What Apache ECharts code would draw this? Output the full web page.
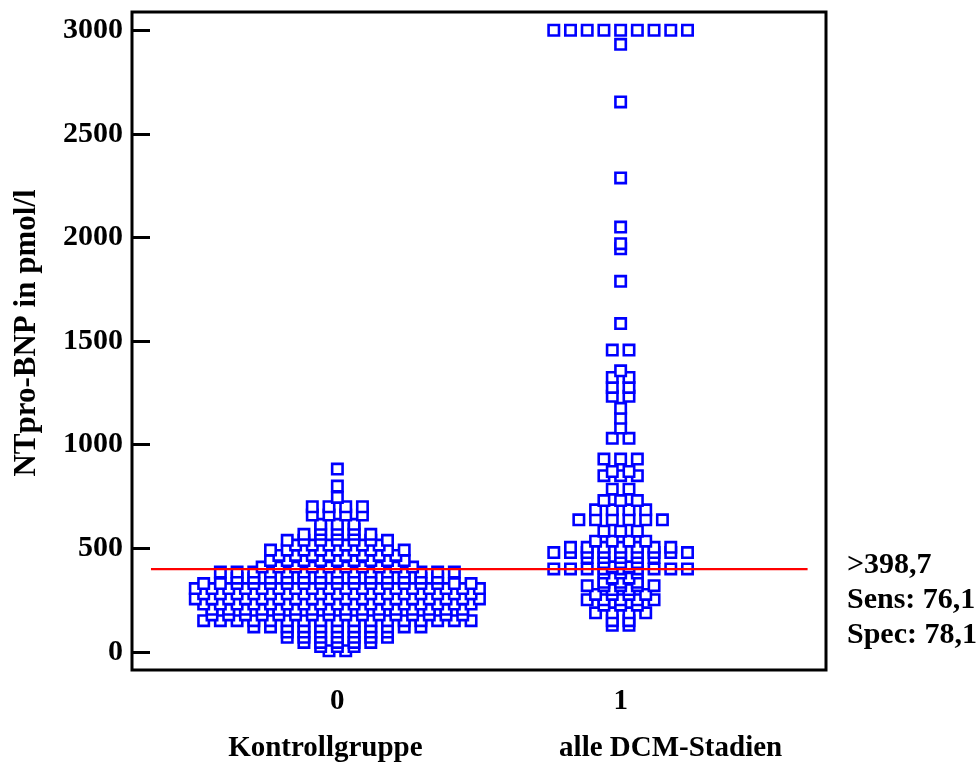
<!DOCTYPE html>
<html>
<head>
<meta charset="utf-8">
<script src="https://cdn.jsdelivr.net/npm/echarts@6/dist/echarts.min.js"></script>
<style>
  html, body { margin: 0; padding: 0; background: #fff; }
  #chart { width: 979px; height: 767px; }
</style>
</head>
<body>
<div id="chart"></div>
<script>
// Groups on the x axis
const groupCodes = [0, 1];
const groupNames = ['Kontrollgruppe', 'alle DCM-Stadien'];

// Y-axis tick labels (pmol/l)
const yTicks = [0, 500, 1000, 1500, 2000, 2500, 3000];

// NTpro-BNP levels (pmol/l) and number of subjects at each level
const controlLevels = [5, 25, 45, 70, 95, 120, 150, 178, 205, 230, 255, 280, 305, 329, 355, 385, 409, 440, 465, 491, 515, 538, 567, 590, 615, 660, 700, 745, 800, 882];
const controlCounts = [2, 3, 5, 7, 7, 11, 17, 16, 16, 17, 18, 17, 18, 17, 13, 15, 10, 9, 8, 9, 6, 7, 5, 3, 3, 4, 4, 1, 1, 1];

const dcmLevels = [128, 150, 188, 225, 251, 277, 300, 319, 335, 355, 380, 400, 410, 430, 455, 479, 504, 534, 582, 637, 685, 730, 785, 850, 870, 930, 1030, 1080, 1127, 1175, 1233, 1276, 1324, 1356, 1456, 1584, 1788, 1945, 1970, 2050, 2287, 2654, 2932, 3000];
const dcmCounts = [2, 2, 4, 3, 5, 4, 2, 5, 3, 2, 3, 9, 2, 3, 5, 9, 7, 4, 3, 6, 4, 3, 2, 3, 2, 3, 2, 1, 1, 1, 2, 2, 2, 1, 2, 1, 1, 1, 1, 1, 1, 1, 1, 9];

// ROC cut-off and its diagnostic performance
const cutoff = 398.7;
const sensitivity = 76.1;
const specificity = 78.1;

// Horizontal spacing between neighbouring dots of one level (x-axis units)
const DOT_STEP = 0.059;

// Spread the dots of each level symmetrically around the group position;
// sorted ascending so higher values are painted on top.
function dotPlot(code, levels, counts) {
  const pts = [];
  levels.forEach((v, i) => {
    const n = counts[i];
    for (let k = 0; k < n; k++) {
      pts.push([code + (k - (n - 1) / 2) * DOT_STEP, v]);
    }
  });
  return pts.sort((a, b) => a[1] - b[1]);
}

const fmt = v => v.toFixed(1).replace('.', ',');
const FONT = '"Liberation Serif", "Times New Roman", serif';

const chart = echarts.init(document.getElementById('chart'), null, { renderer: 'canvas' });

const dotStyle = {
  color: '#ffffff',
  borderColor: '#0000ff',
  borderWidth: 2.6,
  opacity: 1
};

const nameStyle = { fontSize: 29, fontWeight: 'bold', fontFamily: FONT, color: '#000', lineHeight: 47 };

chart.setOption({
  animation: false,
  backgroundColor: '#ffffff',
  textStyle: { fontFamily: FONT },
  grid: {
    left: 132, top: 12, width: 694, height: 658,
    show: true,
    borderColor: '#000',
    borderWidth: 3,
    backgroundColor: 'transparent'
  },
  xAxis: {
    type: 'value',
    min: -0.725,
    max: 1.725,
    axisLine: { show: false, onZero: false },
    axisTick: { show: false },
    splitLine: { show: false },
    axisLabel: {
      customValues: groupCodes,
      margin: 8,
      formatter: v => {
        const i = groupCodes.indexOf(Math.round(v));
        return '{c|' + groupCodes[i] + '}\n{n' + i + '|' + groupNames[i] + '}';
      },
      rich: {
        c: { fontSize: 29, fontWeight: 'bold', fontFamily: FONT, color: '#000', lineHeight: 47 },
        n0: Object.assign({ padding: [0, 24, 0, 0] }, nameStyle),
        n1: Object.assign({ padding: [0, 0, 0, 100] }, nameStyle)
      }
    }
  },
  yAxis: {
    type: 'value',
    min: -88,
    max: 3088,
    name: 'NTpro-BNP in pmol/l',
    nameLocation: 'middle',
    nameGap: 90,
    nameTextStyle: {
      fontSize: 31, fontWeight: 'bold', color: '#000', fontFamily: FONT,
      padding: [0, 0, 0, 16]
    },
    axisLine: { show: false, onZero: false },
    splitLine: { show: false },
    axisTick: {
      show: true,
      inside: true,
      length: 18,
      customValues: yTicks,
      lineStyle: { color: '#000', width: 3 }
    },
    axisLabel: {
      customValues: yTicks,
      margin: 9,
      fontSize: 30,
      fontWeight: 'bold',
      color: '#000',
      fontFamily: FONT,
      formatter: v => String(v)
    }
  },
  series: [
    {
      name: groupNames[0],
      type: 'scatter',
      clip: false,
      symbol: 'rect',
      symbolSize: 10.4,
      itemStyle: dotStyle,
      data: dotPlot(groupCodes[0], controlLevels, controlCounts),
      z: 3
    },
    {
      name: groupNames[1],
      type: 'scatter',
      clip: false,
      symbol: 'rect',
      symbolSize: 10.4,
      itemStyle: dotStyle,
      data: dotPlot(groupCodes[1], dcmLevels, dcmCounts),
      z: 3
    },
    {
      name: 'cutoff',
      type: 'line',
      symbol: 'none',
      silent: true,
      lineStyle: { color: '#ff0000', width: 2.4 },
      data: [[-0.658, cutoff], [1.66, cutoff]],
      z: 4
    }
  ],
  graphic: [
    {
      type: 'text',
      left: 847,
      top: 548,
      style: {
        text: '>' + fmt(cutoff) + '\nSens: ' + fmt(sensitivity) + '\nSpec: ' + fmt(specificity),
        font: 'bold 30px ' + FONT,
        lineHeight: 35,
        fill: '#000'
      }
    }
  ]
});
</script>
</body>
</html>
